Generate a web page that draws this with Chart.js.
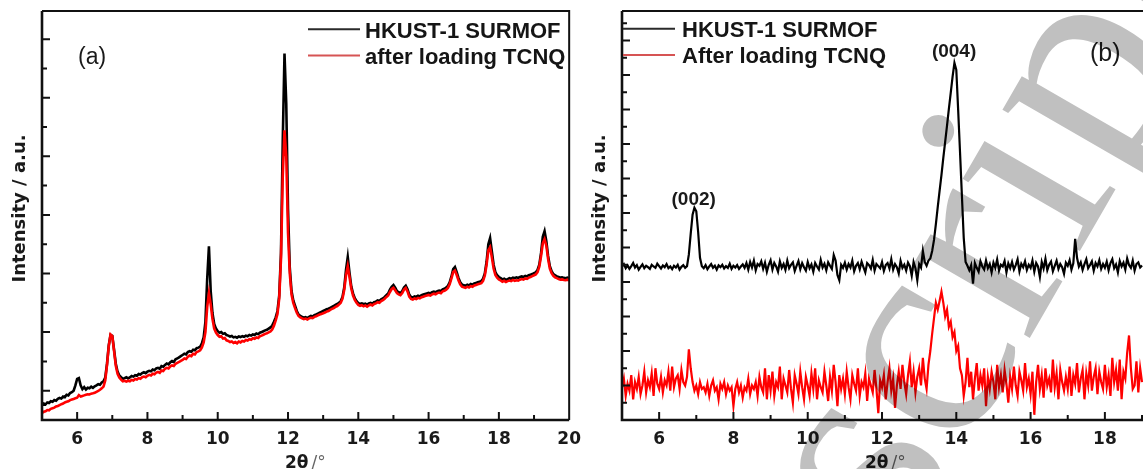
<!DOCTYPE html>
<html>
<head>
<meta charset="utf-8">
<script src="https://cdn.jsdelivr.net/npm/chart.js@4/dist/chart.umd.min.js"></script>
<style>
  html, body { margin: 0; padding: 0; background: #fff; overflow: hidden; }
  #page { position: relative; width: 1143px; height: 469px; overflow: hidden; background: #fff; }
  #page canvas { position: absolute; top: 0; }
</style>
</head>
<body>
<div id="page">
  <canvas id="panelA" width="590" height="469" style="left:0"></canvas>
  <canvas id="panelB" width="620" height="469" style="left:580px"></canvas>
</div>
<script>
// ---- scan grids (2θ, degrees) ----
const scanStartA = 5, scanStepA = 0.05;   // panel (a): 5.00 … 20.00
const scanStartB = 5, scanStepB = 0.05;   // panel (b): 5.00 … 19.00

// ---- panel (a): powder patterns ----
const surmofA = [
  51,56,53,60,58,64,62,68,66,72,75,73,80,78,86,84,92,95,100,118,
  140,143,118,105,112,104,110,108,114,110,115,118,122,120,128,132,145,192,255,290,
  287,240,192,165,152,146,140,143,146,142,145,150,148,153,151,157,155,160,163,160,
  165,168,166,172,170,176,178,175,184,182,188,193,190,197,201,198,207,210,214,218,
  222,226,224,232,235,233,240,238,245,247,250,262,282,335,480,593,440,365,328,312,
  303,298,300,294,296,290,288,285,287,282,284,281,285,283,286,284,288,286,290,288,
  292,290,295,293,298,300,303,306,308,312,316,322,335,350,372,425,570,950,1251,1080,
  720,520,440,408,390,372,360,355,352,349,351,348,352,355,353,358,360,363,366,369,
  372,375,378,380,383,386,389,393,396,400,406,420,452,512,556,502,456,432,416,406,
  399,396,398,395,397,394,398,400,397,402,404,408,406,412,415,420,426,432,445,455,
  461,452,440,436,433,440,452,458,446,428,420,418,422,420,424,422,426,428,430,432,
  434,432,436,438,436,440,442,440,446,448,452,458,470,490,515,522,505,485,470,462,
  460,458,462,459,464,462,466,468,470,472,474,482,500,540,600,621,575,530,505,494,
  488,484,480,482,478,481,484,482,486,484,487,485,488,490,488,492,490,494,496,498,
  501,504,512,530,570,625,644,610,560,525,508,498,494,490,488,486,487,485,484,486,
  484
];
const tcnqA = [
  24,28,30,34,33,38,40,42,46,48,51,54,56,60,62,64,68,70,72,74,
  76,85,80,82,84,86,88,87,90,91,93,96,99,103,108,114,135,188,252,292,
  286,236,185,158,145,138,132,134,131,134,132,137,135,140,138,143,141,146,148,146,
  151,154,152,158,156,162,164,161,169,167,175,178,176,183,186,184,192,195,198,202,
  205,210,208,216,220,218,226,224,232,234,238,248,265,300,385,433,395,345,312,298,
  290,284,286,278,280,272,270,266,268,263,266,262,268,265,270,268,273,271,276,274,
  279,277,282,280,286,288,291,294,296,299,302,309,322,340,362,415,550,830,989,900,
  640,500,428,400,382,366,355,350,347,344,346,343,347,349,348,352,354,357,360,362,
  364,367,370,372,376,379,382,386,389,394,400,414,444,494,525,488,449,425,410,400,
  393,390,392,388,391,387,391,394,391,396,398,402,400,406,409,414,420,425,437,447,
  451,443,433,429,426,433,445,451,439,421,413,411,415,413,417,415,419,421,423,425,
  427,425,429,431,429,433,435,433,439,441,445,451,463,483,505,510,495,477,463,455,
  453,451,455,452,457,455,459,461,463,465,467,475,493,530,580,590,555,517,495,486,
  480,476,472,475,471,474,476,474,478,475,477,476,479,481,479,483,482,486,488,491,
  494,497,505,523,560,603,617,595,550,517,501,492,487,484,481,479,480,478,477,479,
  477
];

// ---- panel (b): oriented film patterns ----
const surmofB = [
  445,452,440,448,438,446,455,442,449,436,444,451,440,447,443,438,450,445,441,453,
  446,439,448,443,452,440,445,437,447,442,450,436,444,449,441,446,480,540,595,615,
  605,545,470,446,440,449,437,445,452,441,447,436,448,443,450,439,446,441,453,438,
  447,442,449,438,445,451,441,455,436,458,442,462,434,452,447,460,438,456,430,450,
  463,436,455,445,430,460,441,452,435,462,440,450,457,432,447,461,437,455,443,433,
  458,440,451,430,455,445,436,464,442,453,434,457,447,438,478,462,420,405,450,441,
  456,436,452,442,462,431,447,455,437,459,443,428,455,449,439,464,433,452,446,440,
  458,432,449,455,439,466,436,452,443,425,461,441,450,433,456,446,418,458,440,405,
  452,442,490,458,447,462,468,490,522,568,617,664,710,760,806,853,902,948,995,1035,
  1015,899,777,652,528,458,447,434,449,395,455,441,430,460,445,436,462,440,452,428,
  456,441,465,433,450,445,461,428,454,440,458,436,449,466,431,453,443,460,435,450,
  441,462,430,455,445,415,458,439,467,434,450,459,431,447,462,438,452,443,424,456,
  447,463,436,454,525,470,445,457,435,452,466,440,449,460,433,455,445,463,438,452,
  441,459,434,455,466,440,451,428,461,445,456,436,468,449,441,462,433,452,457,442,
  448
];
const tcnqB = [
  95,120,70,105,85,130,60,110,90,125,75,100,140,80,115,95,135,70,150,105,
  90,125,80,115,100,140,85,155,95,120,130,90,145,110,100,125,205,150,110,85,
  100,75,110,90,95,80,105,70,100,115,85,95,60,105,90,110,75,100,85,95,
  40,90,110,80,100,65,95,85,120,75,100,90,110,70,125,95,80,150,60,130,
  85,140,70,110,95,155,60,120,100,80,145,90,50,130,105,75,140,95,60,125,
  100,70,135,90,150,60,115,95,80,140,100,55,125,85,160,110,40,130,90,120,
  75,140,95,60,130,105,85,150,70,110,95,135,55,120,100,80,145,90,20,115,
  95,130,60,110,150,85,120,35,100,140,90,160,110,75,130,170,95,140,80,125,
  150,100,180,120,90,160,200,250,295,340,320,345,372,340,300,320,270,285,240,255,
  200,215,150,130,70,110,180,95,140,60,120,165,85,130,100,150,40,125,90,140,
  110,60,160,95,130,80,145,105,50,125,90,155,100,70,140,115,85,165,95,120,
  75,140,15,110,160,90,130,65,150,100,120,80,175,95,135,60,145,110,85,125,
  90,155,70,130,105,165,80,120,145,60,135,100,170,85,125,150,75,140,110,90,
  160,95,130,70,180,110,145,85,175,60,140,120,195,245,150,90,100,170,80,150,
  110
];

// ---- labels and ticks ----
const seriesNamesA = ['HKUST-1 SURMOF', 'after loading TCNQ'];
const seriesNamesB = ['HKUST-1 SURMOF', 'After loading TCNQ'];
const xTickValues = [5,6,7,8,9,10,11,12,13,14,15,16,17,18,19,20];
const yTickValuesA = [100,200,300,400,500,600,700,800,900,1000,1100,1200,1300];
const yTickValuesB = [50,100,150,200,250,300,350,400,450,500,550,600,650,700,750,800,850,900,950,1000,1050,1100,1150];
const yTitle = 'Intensity / a.u.';
const xTitleMain = '2θ';
const xTitleUnit = '/°';
const panelTagA = '(a)';
const panelTagB = '(b)';
const reflectionsB = [
  { text: '(002)', x: 6.93, y: 624 },
  { text: '(004)', x: 13.94, y: 1053 }
];
const watermarkText = 'script';

function toPoints(start, step, values) {
  return values.map((v, i) => ({ x: +(start + i * step).toFixed(2), y: v }));
}

// Frame, inward ticks, titles, legend and annotations for one panel
function makeDecor(spec) {
  return {
    id: 'decor',
    afterDraw(chart) {
      const { ctx, chartArea: a, scales: { x, y } } = chart;
      ctx.save();
      ctx.strokeStyle = '#111';
      ctx.lineCap = 'butt';
      // frame
      ctx.lineWidth = 2.6;
      ctx.beginPath();
      ctx.moveTo(a.left, a.top); ctx.lineTo(a.left, a.bottom); ctx.lineTo(a.right, a.bottom);
      ctx.stroke();
      ctx.lineWidth = 2;
      ctx.beginPath();
      ctx.moveTo(a.left, a.top); ctx.lineTo(a.right, a.top); ctx.lineTo(a.right, a.bottom);
      ctx.stroke();
      // inward tick marks
      ctx.lineWidth = 2;
      ctx.beginPath();
      for (const t of x.ticks) {
        const px = x.getPixelForValue(t.value);
        if (px <= a.left + 2 || px >= a.right - 2) continue;
        const len = t.value % 2 === 0 ? 8 : 5;
        ctx.moveTo(px, a.bottom); ctx.lineTo(px, a.bottom - len);
      }
      for (const t of y.ticks) {
        const py = y.getPixelForValue(t.value);
        if (py >= a.bottom - 2 || py <= a.top + 2) continue;
        const major = ((t.value - spec.yMajorOffset) % spec.yMajorStep) === 0;
        const len = major ? 8 : 5;
        ctx.moveTo(a.left, py); ctx.lineTo(a.left + len, py);
      }
      ctx.stroke();

      ctx.fillStyle = '#1a1a1a';
      // y title
      ctx.save();
      ctx.translate(25, 208.5);
      ctx.rotate(-Math.PI / 2);
      ctx.font = 'bold 18px "DejaVu Sans"';
      ctx.textAlign = 'center';
      ctx.textBaseline = 'alphabetic';
      ctx.fillText(yTitle, 0, 0);
      ctx.restore();

      // x title
      ctx.textAlign = 'left';
      ctx.textBaseline = 'alphabetic';
      ctx.font = 'bold 17px "DejaVu Sans"';
      ctx.fillText(xTitleMain, 285, 468);
      const w = ctx.measureText(xTitleMain).width;
      ctx.font = '17px "DejaVu Sans"';
      ctx.fillStyle = '#666';
      ctx.fillText(xTitleUnit, 285 + w + 3, 468);

      // legend
      const lg = spec.legend;
      chart.data.datasets.forEach((ds, i) => {
        const ly = lg.rows[i];
        ctx.strokeStyle = lg.colors[i];
        ctx.lineWidth = 2;
        ctx.beginPath();
        ctx.moveTo(lg.x0, ly); ctx.lineTo(lg.x1, ly);
        ctx.stroke();
        ctx.fillStyle = '#151515';
        ctx.font = 'bold 22px "Liberation Sans"';
        ctx.fillText(ds.label, lg.tx, ly + 8.3);
      });

      // panel tag
      ctx.fillStyle = '#1a1a1a';
      ctx.font = spec.tag.font;
      ctx.fillText(spec.tag.text, spec.tag.x, spec.tag.y);

      // reflection indices
      if (spec.reflections) {
        ctx.font = 'bold 19px "Liberation Sans"';
        ctx.textAlign = 'center';
        for (const r of spec.reflections) {
          ctx.fillText(r.text, x.getPixelForValue(r.x), y.getPixelForValue(r.y));
        }
      }

      // grey overprint lettering
      if (spec.watermark) {
        const wm = spec.watermark;
        ctx.save();
        ctx.globalCompositeOperation = 'multiply';
        ctx.fillStyle = 'rgb(192,192,192)';
        ctx.font = wm.font;
        ctx.textAlign = 'left';
        ctx.translate(wm.x, wm.y);
        ctx.rotate(wm.angle * Math.PI / 180);
        ctx.fillText(wm.text, 0, 0);
        ctx.restore();
      }
      ctx.restore();
    }
  };
}

function panelConfig(p) {
  return {
    type: 'line',
    data: {
      datasets: [
        { label: p.names[0], data: toPoints(p.start, p.step, p.surmof),
          borderColor: '#000', borderWidth: p.lineWidth, pointRadius: 0, order: 2 },
        { label: p.names[1], data: toPoints(p.start, p.step, p.tcnq),
          borderColor: '#f00', borderWidth: p.lineWidth, pointRadius: 0, order: 1 }
      ]
    },
    options: {
      responsive: false,
      animation: false,
      events: [],
      parsing: false,
      layout: { padding: { top: 11, right: p.padRight, left: 0, bottom: 0 } },
      plugins: { legend: { display: false }, tooltip: { enabled: false } },
      scales: {
        x: {
          type: 'linear', min: 5, max: 20,
          afterBuildTicks(s) { s.ticks = xTickValues.map(v => ({ value: v })); },
          afterFit(s) { s.height = 49; },
          ticks: {
            autoSkip: false, maxRotation: 0, padding: 9, color: '#1a1a1a',
            font: { family: 'DejaVu Sans', weight: 'bold', size: 17 },
            callback: v => (v % 2 === 0 ? String(v) : '')
          },
          grid: { display: false, drawTicks: false },
          border: { display: false }
        },
        y: {
          type: 'linear', min: 0, max: p.yMax,
          afterBuildTicks(s) { s.ticks = p.yTicks.map(v => ({ value: v })); },
          afterFit(s) { s.width = 42; },
          ticks: { display: false },
          grid: { display: false, drawTicks: false },
          border: { display: false }
        }
      }
    },
    plugins: [makeDecor(p.decor)]
  };
}

new Chart(document.getElementById('panelA'), panelConfig({
  names: seriesNamesA, start: scanStartA, step: scanStepA,
  surmof: surmofA, tcnq: tcnqA, yMax: 1396, yTicks: yTickValuesA, padRight: 17, lineWidth: 2.6,
  decor: {
    yMajorStep: 200, yMajorOffset: 100,
    legend: { x0: 308, x1: 360, tx: 365, rows: [29.3, 55.5], colors: ['#2a2a2a', 'rgb(214,84,84)'] },
    tag: { text: panelTagA, x: 78, y: 63.5, font: '23px "Liberation Sans"' }
  }
}));

new Chart(document.getElementById('panelB'), panelConfig({
  names: seriesNamesB, start: scanStartB, step: scanStepB,
  surmof: surmofB, tcnq: tcnqB, yMax: 1185.5, yTicks: yTickValuesB, padRight: 11, lineWidth: 2.2,
  decor: {
    yMajorStep: 100, yMajorOffset: 0,
    legend: { x0: 43, x1: 95, tx: 102, rows: [28.8, 55], colors: ['#2a2a2a', 'rgb(214,84,84)'] },
    tag: { text: panelTagB, x: 510, y: 61, font: '25px "Liberation Sans"' },
    reflections: reflectionsB,
    watermark: { text: watermarkText, x: 321.8, y: 559.5, angle: -60, font: '300px "Liberation Serif"' }
  }
}));
</script>
</body>
</html>
